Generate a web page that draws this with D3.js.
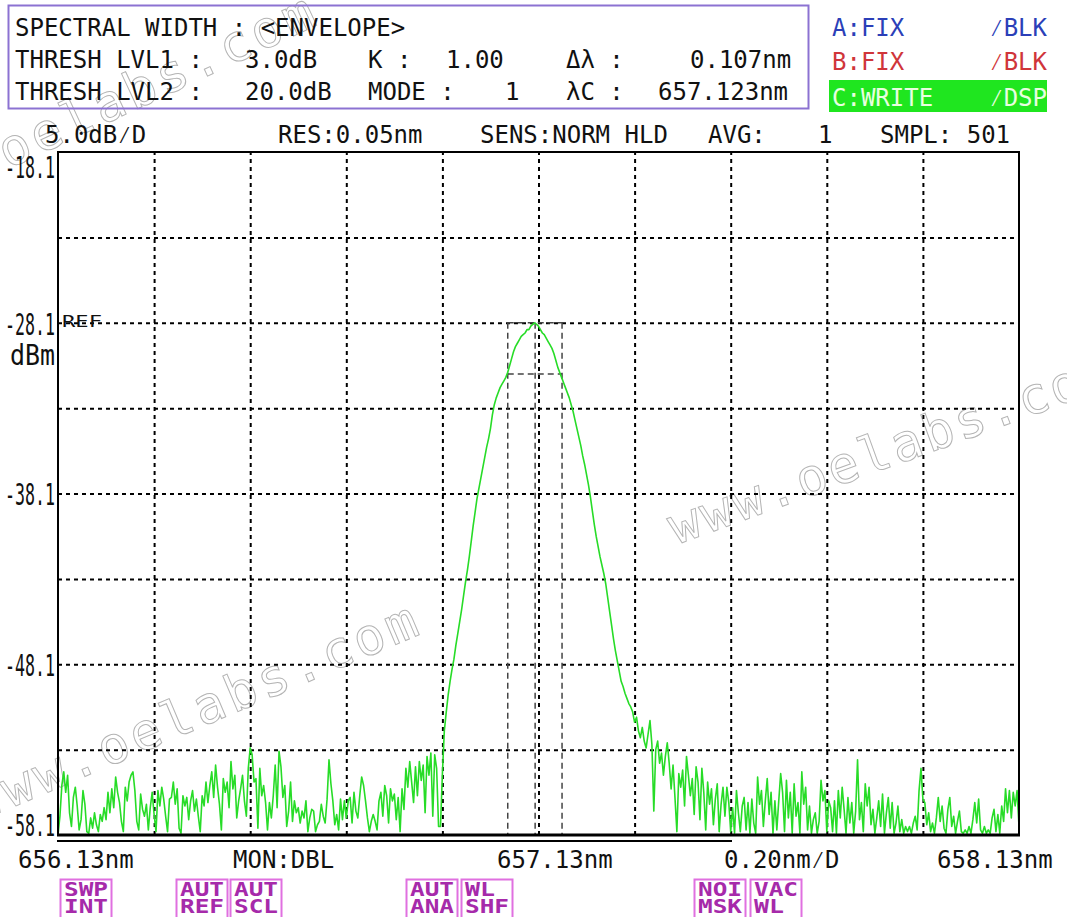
<!DOCTYPE html>
<html><head><meta charset="utf-8">
<script src="https://cdn.jsdelivr.net/npm/d3@7"></script>
<style>
html,body{margin:0;padding:0;background:#fff;}
svg{display:block;}
text{font-family:"DejaVu Sans Mono","Liberation Mono",monospace;}
</style></head>
<body>
<svg id="c" width="1067" height="917"></svg>
<script>
// ---------- data ----------
const wavelengthStart = 656.13;
const wavelengthStop = 658.13;
const sampleCount = 501;
const levelTop = -18.1;
const levelBottom = -58.1;

const yTickValues = [-18.1, -28.1, -38.1, -48.1, -58.1];
const yTickLabels = ["-18.1", "-28.1", "-38.1", "-48.1", "-58.1"];
const xGridValues = [656.13, 656.33, 656.53, 656.73, 656.93, 657.13, 657.33, 657.53, 657.73, 657.93, 658.13];
const yGridValues = [-18.1, -23.1, -28.1, -33.1, -38.1, -43.1, -48.1, -53.1, -58.1];

// trace C (dBm), samples 0..198 : noise left of the peak
const leftNoise = [
-58.1,-57.0,-55.2,-54.4,-55.6,-54.6,-56.8,-57.6,-55.9,-55.3,
-56.4,-57.8,-57.2,-55.5,-56.3,-57.9,-58.0,-57.1,-57.7,-56.8,
-57.5,-57.9,-56.9,-57.3,-56.5,-57.2,-55.6,-56.8,-55.4,-56.5,
-54.7,-55.6,-56.2,-57.3,-57.9,-55.3,-56.1,-55.0,-54.6,-54.4,
-55.5,-57.3,-57.8,-55.7,-56.6,-57.0,-56.3,-57.8,-56.5,-55.6,
-56.9,-57.9,-55.5,-56.4,-55.3,-56.0,-57.0,-57.9,-56.0,-55.9,
-55.0,-56.3,-55.4,-57.7,-58.0,-55.8,-56.4,-55.9,-57.2,-56.1,
-55.5,-56.7,-56.0,-57.0,-57.9,-55.8,-56.4,-55.0,-56.2,-55.2,
-54.4,-55.9,-54.0,-55.3,-56.3,-57.8,-54.8,-55.6,-55.0,-56.5,
-53.8,-55.4,-54.6,-57.1,-56.1,-55.4,-54.6,-56.1,-57.0,-54.2,
-53.0,-53.4,-55.0,-54.8,-57.7,-54.2,-55.8,-55.2,-56.2,-57.8,
-56.2,-57.1,-55.8,-54.0,-56.5,-53.2,-54.1,-55.9,-55.2,-57.6,
-56.7,-55.0,-57.3,-56.1,-56.8,-56.5,-57.4,-56.7,-57.1,-56.1,
-57.9,-57.1,-56.6,-56.7,-57.9,-57.5,-57.3,-56.3,-57.0,-57.4,
-56.0,-53.7,-55.1,-56.1,-57.5,-56.9,-57.8,-56.0,-57.2,-56.1,
-57.1,-56.1,-55.9,-57.4,-55.6,-56.7,-57.1,-55.8,-54.7,-55.2,
-56.1,-57.1,-57.9,-57.3,-56.9,-57.3,-57.8,-56.1,-55.6,-57.0,
-55.2,-55.8,-57.4,-55.4,-56.1,-55.7,-57.2,-55.9,-57.9,-55.4,
-56.6,-54.2,-55.3,-53.8,-55.0,-56.2,-54.1,-55.8,-53.8,-54.9,
-54.0,-56.8,-53.5,-54.6,-53.3,-57.0,-53.4,-54.2,-57.6
];
// samples 199..333 : the laser line
const peakTrace = [
-57.6,-54.5,-52.0,-50.9,-49.9,-49.1,-48.4,-47.8,-47.0,-46.3,
-45.6,-44.9,-44.1,-43.3,-42.6,-41.8,-40.9,-40.0,-39.2,-38.4,
-37.8,-37.2,-36.6,-36.0,-35.4,-34.9,-34.3,-33.5,-32.9,-32.5,
-32.2,-31.9,-31.7,-31.5,-31.3,-31.0,-30.6,-30.2,-29.8,-29.5,
-29.3,-29.1,-28.9,-28.8,-28.7,-28.5,-28.5,-28.3,-28.2,-28.1,
-28.2,-28.3,-28.5,-28.7,-28.8,-29.0,-29.2,-29.4,-29.6,-29.9,
-30.3,-30.7,-31.0,-31.3,-31.6,-31.9,-32.2,-32.5,-32.9,-33.3,
-33.8,-34.3,-34.8,-35.3,-35.9,-36.4,-37.0,-37.6,-38.3,-39.1,
-39.9,-40.6,-41.2,-41.8,-42.3,-42.8,-43.4,-44.2,-45.0,-45.8,
-46.6,-47.3,-47.9,-48.5,-49.1,-49.4,-49.8,-50.1,-50.4,-50.6,
-50.9,-51.5,-51.2,-52.0,-52.4,-51.8,-52.6,-53.0,-52.2,-51.4,
-52.8,-56.7,-53.1,-52.6,-53.9,-53.3,-54.6,-53.5,-52.7,-53.9,
-55.4,-54.0,-55.9,-57.9,-54.5,-55.3,-54.3,-56.4,-53.5,-54.6,
-55.8,-54.8,-56.9,-54.1,-55.0
];
// samples 334..500 : noise right of the peak
const rightNoise = [
-57.2,-54.2,-55.6,-57.8,-55.0,-56.3,-55.4,-57.5,-56.0,-55.1,
-57.9,-56.3,-55.3,-57.0,-55.3,-56.2,-57.9,-56.5,-58.0,-55.5,
-56.8,-57.9,-56.4,-55.9,-57.8,-56.2,-58.0,-56.0,-57.4,-58.0,
-54.7,-56.3,-55.5,-57.6,-56.1,-54.8,-56.9,-55.6,-58.0,-56.1,
-57.8,-56.1,-54.5,-55.6,-57.9,-54.9,-57.1,-55.6,-58.0,-55.1,
-57.0,-56.2,-58.0,-54.4,-56.3,-55.3,-57.8,-56.4,-58.0,-57.2,
-56.8,-58.0,-57.3,-54.9,-56.1,-55.5,-57.9,-56.1,-56.5,-57.9,
-56.1,-58.0,-55.5,-57.1,-55.3,-56.6,-58.0,-55.9,-57.4,-56.2,
-58.0,-56.7,-53.7,-57.2,-56.2,-57.9,-55.1,-56.4,-55.3,-57.5,
-56.6,-58.0,-57.1,-56.1,-57.6,-55.7,-58.0,-56.8,-55.9,-57.7,
-56.2,-58.0,-57.4,-56.4,-57.9,-57.2,-58.0,-57.6,-57.9,-57.6,
-58.0,-57.4,-57.0,-57.8,-55.5,-54.2,-56.0,-56.2,-57.5,-56.8,
-57.9,-57.4,-58.0,-57.1,-55.9,-57.3,-56.4,-57.7,-58.0,-56.6,
-55.9,-57.6,-57.0,-58.0,-57.3,-56.7,-57.9,-58.0,-57.8,-58.0,
-57.6,-58.0,-57.2,-56.2,-57.4,-56.0,-57.8,-58.0,-57.6,-58.0,
-57.8,-58.0,-57.1,-56.6,-57.9,-56.9,-58.0,-56.4,-57.3,-55.4,
-56.8,-55.5,-57.1,-55.6,-56.4,-55.5,-57.6
];

// spectral width analysis markers
const analysisLeft = 657.066, analysisCenter = 657.123, analysisRight = 657.179;
const analysisPeak = -28.1, analysisThresh = -31.1;

// header texts
const headerLines = [
  ["SPECTRAL WIDTH : <ENVELOPE>"],
  ["THRESH LVL1 :", "3.0dB", "K :", "1.00", "\u0394\u03bb :", "0.107nm"],
  ["THRESH LVL2 :", "20.0dB", "MODE :", "1", "\u03bbC :", "657.123nm"]
];
const traceLegend = [
  {name: "A:FIX", mode: "\u2044BLK", color: "#2b3fb8"},
  {name: "B:FIX", mode: "\u2044BLK", color: "#d0353a"},
  {name: "C:WRITE", mode: "\u2044DSP", color: "#e8ffe0"}
];
const conditionLabels = ["5.0dB\u2044D", "RES:0.05nm", "SENS:NORM HLD", "AVG:", "1", "SMPL: 501"];
const bottomLabels = ["656.13nm", "MON:DBL", "657.13nm", "0.20nm\u2044D", "658.13nm"];
const softKeys = [["SWP","INT"],["AUT","REF"],["AUT","SCL"],["AUT","ANA"],["WL","SHF"],["NOI","MSK"],["VAC","WL"]];
const watermark = "www.oelabs.com";

// ---------- layout ----------
const svg = d3.select("#c");
const L = 58, R = 1019, T = 152, B = 835;
const levels = leftNoise.concat(peakTrace, rightNoise);
const x = d3.scaleLinear().domain([wavelengthStart, wavelengthStop]).range([L, R]);
const y = d3.scaleLinear().domain([levelBottom, levelTop]).range([B, T]);
const idx = d3.scaleLinear().domain([0, sampleCount - 1]).range([wavelengthStart, wavelengthStop]);

// watermarks (behind)
const wm = svg.append("g").attr("font-family", "'Liberation Serif','DejaVu Serif',serif")
  .attr("font-size", 51).attr("fill", "none").attr("stroke", "#b4b4b4").attr("stroke-width", 1);
[[-118, 228, -25, 4], [-22, 822, -23, 4], [676, 545, -20, 3]].forEach(([tx, ty, a, ls]) => {
  wm.append("text").attr("transform", `translate(${tx},${ty}) rotate(${a})`)
    .attr("letter-spacing", ls).text(watermark);
});

// header box
svg.append("rect").attr("x", 8.5).attr("y", 5.5).attr("width", 800).attr("height", 103)
  .attr("fill", "none").attr("stroke", "#8c72d2").attr("stroke-width", 2);
const hx = [[15], [15, 245, 368, 446, 566, 690], [15, 245, 368, 505, 566, 658]];
const hy = [36, 68, 100];
headerLines.forEach((ln, i) => ln.forEach((t, j) => {
  svg.append("text").attr("x", hx[i][j]).attr("y", hy[i]).attr("font-size", 24).attr("fill", "#111").text(t);
}));

// legend
svg.append("rect").attr("x", 829).attr("y", 80).attr("width", 218).attr("height", 32).attr("fill", "#1fe61f");
traceLegend.forEach((d, i) => {
  const yy = [36, 70, 106][i];
  svg.append("text").attr("x", 832).attr("y", yy).attr("font-size", 24).attr("fill", d.color).text(d.name);
  svg.append("text").attr("x", 1047).attr("y", yy).attr("text-anchor", "end").attr("font-size", 24).attr("fill", d.color).text(d.mode);
});

// condition row
const cx = [45, 278, 480, 708, 818, 880];
conditionLabels.forEach((t, i) => {
  svg.append("text").attr("x", cx[i]).attr("y", 143).attr("font-size", 24).attr("fill", "#111").text(t);
});

// grid via axes
const gridX = svg.append("g").attr("transform", `translate(0,${B})`)
  .call(d3.axisBottom(x).tickValues(xGridValues.slice(1, -1)).tickSize(-(B - T)).tickFormat(""));
gridX.select(".domain").remove();
gridX.selectAll("line").attr("stroke", "#000").attr("stroke-width", 2).attr("stroke-dasharray", "4,4");
const gridY = svg.append("g").attr("transform", `translate(${L},0)`)
  .call(d3.axisLeft(y).tickValues(yGridValues.slice(1, -1)).tickSize(-(R - L)).tickFormat(""));
gridY.select(".domain").remove();
gridY.selectAll("line").attr("stroke", "#000").attr("stroke-width", 2).attr("stroke-dasharray", "4,4");

// analysis markers
const am = svg.append("g").attr("stroke", "#444").attr("stroke-width", 1.5).attr("stroke-dasharray", "6,4").attr("fill", "none");
[analysisLeft, analysisCenter, analysisRight].forEach(w => {
  am.append("line").attr("x1", x(w)).attr("x2", x(w)).attr("y1", y(analysisPeak)).attr("y2", y(levelBottom));
});
[analysisPeak, analysisThresh].forEach(v => {
  am.append("line").attr("x1", x(analysisLeft)).attr("x2", x(analysisRight)).attr("y1", y(v)).attr("y2", y(v));
});

// trace
svg.append("defs").append("clipPath").attr("id", "pc").append("rect")
  .attr("x", L).attr("y", T).attr("width", R - L).attr("height", B - T + 1);
const line = d3.line().x((d, i) => x(idx(i))).y(d => y(d));
svg.append("path").datum(levels).attr("clip-path", "url(#pc)")
  .attr("d", line).attr("fill", "none").attr("stroke", "#27dc27").attr("stroke-width", 1.6)
  .attr("stroke-linejoin", "round");

// frame
svg.append("path").attr("d", `M${L},${B}V${T}H${R}V${B}`).attr("fill", "none").attr("stroke", "#000").attr("stroke-width", 2);
svg.append("line").attr("x1", L - 1).attr("x2", R + 1).attr("y1", B).attr("y2", B).attr("stroke", "#000").attr("stroke-width", 3);
svg.append("line").attr("x1", L - 1).attr("x2", 732).attr("y1", 841).attr("y2", 841).attr("stroke", "#000").attr("stroke-width", 2);

// y axis labels through an axis
const yAxis = svg.append("g").attr("transform", `translate(${L - 3},0)`)
  .call(d3.axisLeft(y).tickValues(yTickValues).tickSize(0).tickPadding(0).tickFormat((d, i) => yTickLabels[i]));
yAxis.select(".domain").remove();
yAxis.selectAll("text").attr("font-size", 31).attr("fill", "#111")
  .attr("font-family", "'DejaVu Sans Mono',monospace")
  .attr("textLength", 50).attr("lengthAdjust", "spacingAndGlyphs")
  .attr("dy", (d, i) => i === 0 ? "0.83em" : (i === yTickValues.length - 1 ? "0.02em" : "0.37em"));
svg.append("text").attr("x", 10).attr("y", 365).attr("font-size", 28).attr("fill", "#111")
  .attr("textLength", 45).attr("lengthAdjust", "spacingAndGlyphs").text("dBm");
svg.append("text").attr("x", 62).attr("y", 327).attr("font-size", 15).attr("fill", "#111")
  .attr("font-family", "'DejaVu Sans',sans-serif")
  .attr("textLength", 40).attr("lengthAdjust", "spacingAndGlyphs").text("REF");

// bottom labels
const bx = [18, 233, 497, 724, 937];
bottomLabels.forEach((t, i) => {
  svg.append("text").attr("x", bx[i]).attr("y", 868).attr("font-size", 24).attr("fill", "#111").text(t);
});

// soft keys
const kx = [60, 176, 230, 406, 461, 694, 750];
softKeys.forEach((k, i) => {
  const g = svg.append("g").attr("transform", `translate(${kx[i]},879)`);
  g.append("rect").attr("x", 0.5).attr("y", 0.5).attr("width", 51).attr("height", 40)
    .attr("fill", "none").attr("stroke", "#e070e0").attr("stroke-width", 2);
  k.forEach((t, j) => g.append("text").attr("x", 4).attr("y", 17 + j * 17).attr("font-size", 19)
    .attr("font-weight", "bold").attr("fill", "#a62aaa")
    .attr("textLength", t.length === 3 ? 44 : 30).attr("lengthAdjust", "spacingAndGlyphs").text(t));
});
</script>
</body></html>
